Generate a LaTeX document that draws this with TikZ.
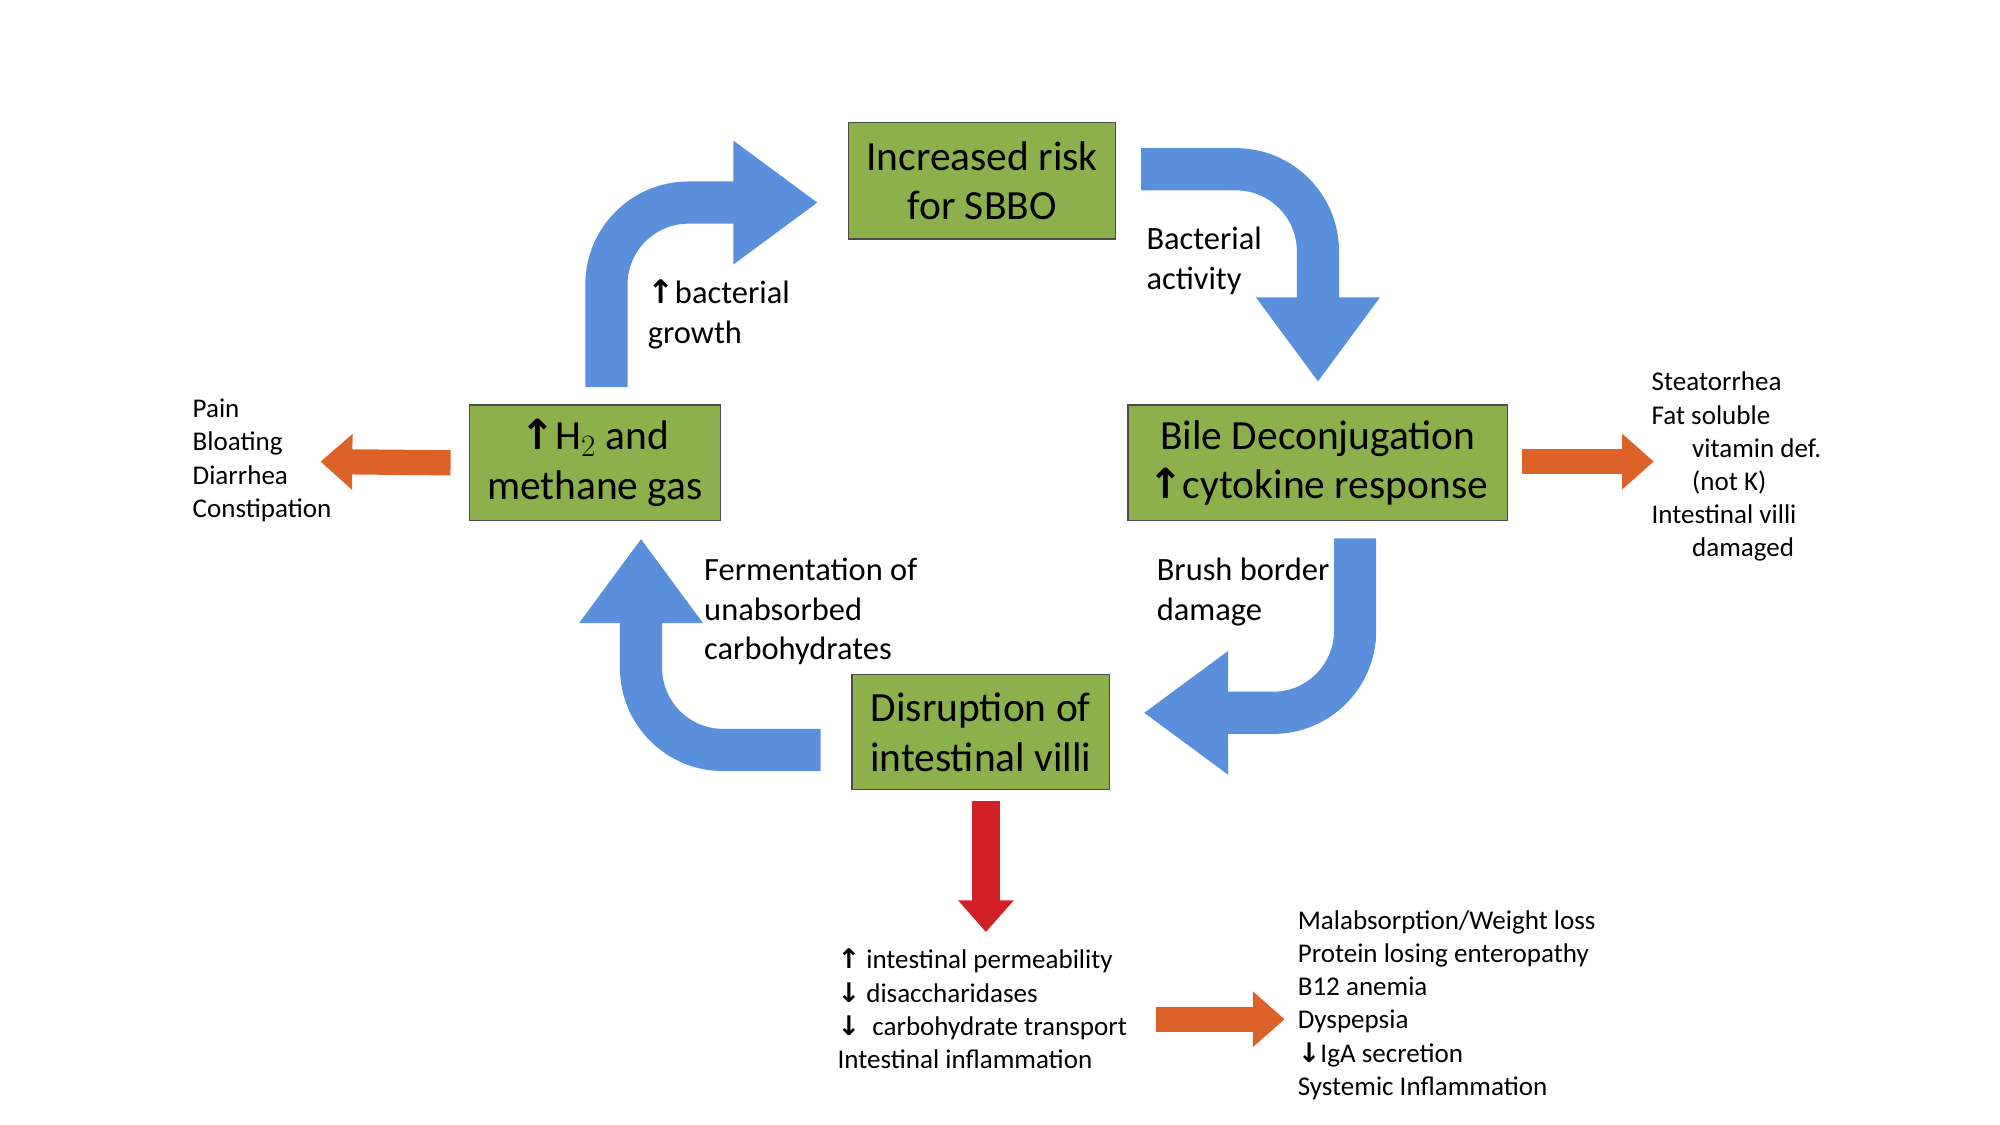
\documentclass[tikz,border=0pt]{standalone}
\usepackage{fontspec}
\setmainfont{Carlito}
\newfontfamily\arrf{DejaVu Sans}
\usetikzlibrary{arrows.meta}
\newcommand{\upa}{{\arrf\bfseries ↑}}
\newcommand{\dna}{{\arrf\bfseries ↓}}
\definecolor{boxg}{HTML}{8CB04C}
\definecolor{bluea}{HTML}{5A8FDB}
\definecolor{orng}{HTML}{DC6228}
\definecolor{redd}{HTML}{D21F26}
\begin{document}
\begin{tikzpicture}[x=0.025cm,y=-0.025cm,
  box/.style={draw=black!70,line width=0.8pt,fill=boxg,align=center,font=\fontsize{23}{27.5}\selectfont,inner sep=0pt},
  big/.style={line width=23.4pt,draw=bluea,rounded corners=1.6cm,-{Triangle[width=2.3cm,length=1.65cm]}},
  orar/.style={line width=14pt,draw=orng,-{Triangle[width=1.05cm,length=0.62cm]}},
  sm/.style={anchor=north west,align=left,inner sep=0pt,font=\fontsize{15}{18.4}\selectfont},
  md/.style={anchor=north west,align=left,inner sep=0pt,font=\fontsize{18}{22}\selectfont}]
\useasboundingbox (0,0) rectangle (1560,877);
\node[box,minimum width=208*0.025cm,minimum height=91*0.025cm] (A) at (766,141) {Increased risk\\for SBBO};
\node[box,minimum width=296*0.025cm,minimum height=90*0.025cm] (B) at (1028,361) {Bile Deconjugation\\\upa cytokine response};
\node[box,minimum width=201*0.025cm,minimum height=90*0.025cm] (C) at (765,571) {Disruption of\\intestinal villi};
\node[box,minimum width=196*0.025cm,minimum height=90*0.025cm] (D) at (464,361) {\upa H$_2$ and\\methane gas};
% blue arrows
\draw[big] (473,302) |- (638,158);
\draw[big] (890,132) -| (1028,298);
\draw[big] (1057,420) |- (892,556);
\draw[big] (640,585) -| (500,420);
% orange
\draw[orar] (D.west)+(-14,0) coordinate (d1) (d1) -- (250,360);
\draw[orar] (1187,360) -- (1290,360);
\draw[orar] (902,795) -- (1002,795);
\draw[line width=15.5pt,draw=redd,-{Triangle[width=1.05cm,length=0.62cm]}] (769,625) -- (769,727);
% texts
\node[sm] (t1) at (150,311) {Pain\\Bloating\\Diarrhea\\Constipation};
\node[sm] (t2) at (1288,290) {Steatorrhea\\Fat soluble\\\hspace{1.5em}vitamin def.\\\hspace{1.5em}(not K)\\Intestinal villi\\\hspace{1.5em}damaged};
\node[md] (t3) at (894,177) {Bacterial\\activity};
\node[md] (t4) at (505,218) {\upa bacterial\\growth};
\node[md] (t5) at (549,435) {Fermentation of\\unabsorbed\\carbohydrates};
\node[md] (t6) at (902,435) {Brush border\\damage};
\node[sm] (t7) at (653,740) {\upa\ intestinal permeability\\\dna\ disaccharidases\\\dna\ \ carbohydrate transport\\Intestinal inflammation};
\node[sm] (t8) at (1012,710) {Malabsorption/Weight loss\\Protein losing enteropathy\\B12 anemia\\Dyspepsia\\\dna IgA secretion\\Systemic Inflammation};
\end{tikzpicture}
\end{document}
